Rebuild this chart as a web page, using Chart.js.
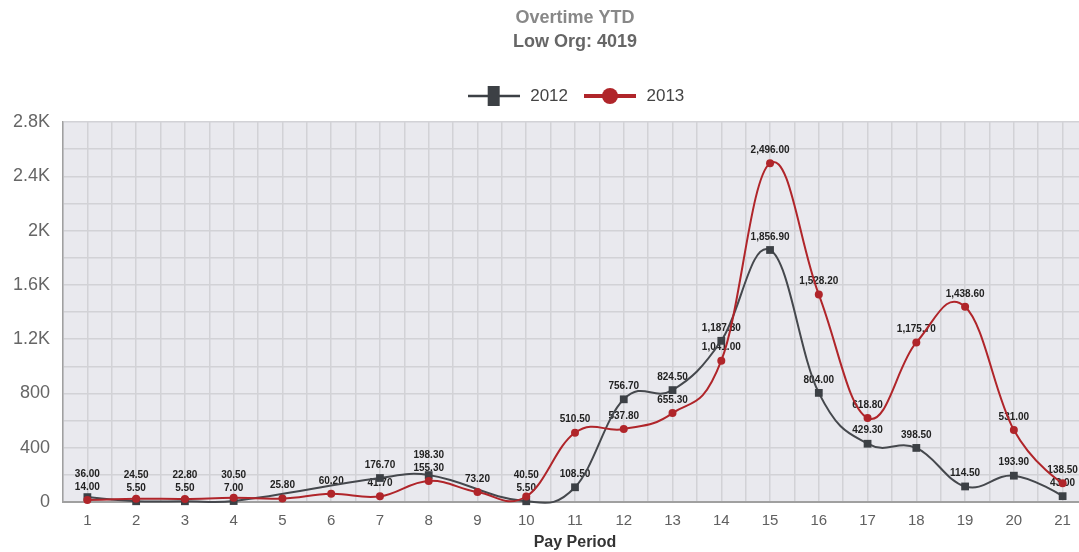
<!DOCTYPE html>
<html><head><meta charset="utf-8">
<script src="https://cdn.jsdelivr.net/npm/chart.js@4.4.0/dist/chart.umd.min.js"></script>
<style>
html,body{margin:0;padding:0;background:#fff;overflow:hidden;width:1079px;height:552px;}
#wrap{position:absolute;left:0;top:0;width:1100px;height:552px;}
canvas{display:block;}
</style></head><body>
<div id="wrap"><canvas id="c" width="1100" height="552"></canvas></div>
<script>
// ---- data ----
const periods = [1,2,3,4,5,6,7,8,9,10,11,12,13,14,15,16,17,18,19,20,21];
const ot2012 = [36.00, 5.50, 5.50, 7.00, null, null, 176.70, 198.30, null, 5.50, 108.50, 756.70, 824.50, 1187.80, 1856.90, 804.00, 429.30, 398.50, 114.50, 193.90, 43.00];
const ot2013 = [14.00, 24.50, 22.80, 30.50, 25.80, 60.20, 41.70, 155.30, 73.20, 40.50, 510.50, 537.80, 655.30, 1041.00, 2496.00, 1528.20, 618.80, 1175.70, 1438.60, 531.00, 138.50];
const seriesNames = ['2012', '2013'];
const yTickLabels = ['0', '400', '800', '1.2K', '1.6K', '2K', '2.4K', '2.8K'];
const titleText = 'Overtime YTD';
const subtitleText = 'Low Org: 4019';
const xTitle = 'Pay Period';

const FONT = 'Liberation Sans';
Chart.defaults.font.family = FONT;

const C2012 = '#45484d', M2012 = '#3c4045';
const C2013 = '#b0252a';

function fmt(v) {
  const s = v.toFixed(2);
  const parts = s.split('.');
  return parts[0].replace(/\B(?=(\d{3})+(?!\d))/g, ',') + '.' + parts[1];
}

function legendIcon(kind, color) {
  const c = document.createElement('canvas');
  c.width = 52; c.height = 24;
  const g = c.getContext('2d');
  g.strokeStyle = color; g.fillStyle = color;
  g.lineWidth = kind === 'rect' ? 2.5 : 4;
  g.beginPath(); g.moveTo(0, 12); g.lineTo(52, 12); g.stroke();
  if (kind === 'rect') { g.fillRect(20, 2, 12, 20); }
  else { g.beginPath(); g.arc(26, 12, 8, 0, Math.PI * 2); g.fill(); }
  return c;
}
const icons = [legendIcon('rect', M2012), legendIcon('circle', C2013)];

// Highcharts-style spline control points
const hcSpline = {
  id: 'hcSpline',
  afterDatasetsUpdate(chart) {
    chart.data.datasets.forEach((ds, di) => {
      const meta = chart.getDatasetMeta(di);
      const pts = meta.data.filter(p => !p.skip);
      const sm = 1.5, den = sm + 1;
      pts.forEach((p, i) => {
        const prev = pts[i - 1], next = pts[i + 1];
        p.cp1x = p.x; p.cp1y = p.y; p.cp2x = p.x; p.cp2y = p.y;
        if (prev && next) {
          let lx = (sm * p.x + prev.x) / den, ly = (sm * p.y + prev.y) / den;
          let rx = (sm * p.x + next.x) / den, ry = (sm * p.y + next.y) / den;
          let corr = 0;
          if (rx !== lx) corr = ((ry - ly) * (rx - p.x)) / (rx - lx) + p.y - ry;
          ly += corr; ry += corr;
          p.cp1x = lx; p.cp1y = ly; p.cp2x = rx; p.cp2y = ry;
        }
      });
      if (meta.dataset) meta.dataset._pointsUpdated = true;
    });
  }
};

const plotBg = {
  id: 'plotBg',
  beforeDraw(chart) {
    const { ctx, chartArea: a } = chart;
    ctx.save();
    ctx.fillStyle = '#e9e9ee';
    ctx.fillRect(a.left, a.top, a.right - a.left, a.bottom - a.top);
    ctx.restore();
  }
};

const dataLabels = {
  id: 'dataLabels',
  beforeDatasetsDraw(chart) {
    const ctx = chart.ctx;
    const n = periods.length;
    ctx.save();
    ctx.font = 'bold 10px "' + FONT + '"';
    ctx.fillStyle = '#222';
    ctx.textAlign = 'center';
    ctx.textBaseline = 'middle';
    for (let i = 0; i < n; i++) {
      const items = [];
      chart.data.datasets.forEach((ds, di) => {
        const v = ds.data[i].y;
        if (v === null || v === undefined) return;
        const pt = chart.getDatasetMeta(di).data[i];
        items.push({ x: pt.x, y: pt.y - 13, v });
      });
      items.sort((a, b) => b.v - a.v);
      for (let k = 1; k < items.length; k++) {
        const hi = items[k - 1], lo = items[k];
        if (lo.y - hi.y < 13) hi.y = lo.y - 13;
      }
      items.forEach(it => ctx.fillText(fmt(it.v), it.x, it.y));
    }
    ctx.restore();
  }
};

const gridColor = '#d2d2d6';

new Chart(document.getElementById('c'), {
  type: 'line',
  data: {
    datasets: [
      {
        label: seriesNames[0], xAxisID: 'x', yAxisID: 'y',
        data: periods.map((p, i) => ({ x: p, y: ot2012[i] })),
        borderColor: C2012, backgroundColor: M2012,
        pointBackgroundColor: M2012, pointBorderColor: M2012, pointBorderWidth: 0,
        pointStyle: 'rect', pointRadius: 5.5,
        borderWidth: 2, tension: 0.4, spanGaps: true, clip: 10, order: 2
      },
      {
        label: seriesNames[1], xAxisID: 'x', yAxisID: 'y',
        data: periods.map((p, i) => ({ x: p, y: ot2013[i] })),
        borderColor: C2013, backgroundColor: C2013,
        pointBackgroundColor: C2013, pointBorderColor: C2013, pointBorderWidth: 0,
        pointStyle: 'circle', pointRadius: 4,
        borderWidth: 2, tension: 0.4, spanGaps: true, clip: 10, order: 1
      }
    ]
  },
  options: {
    responsive: false,
    animation: false,
    devicePixelRatio: 1,
    layout: { padding: { left: 0, right: 13, top: 0, bottom: 0 } },
    events: [],
    plugins: {
      title: {
        display: true, text: titleText, fullSize: false, color: '#888',
        font: { family: FONT, size: 18, weight: 'bold' }, padding: { top: 7, bottom: 2 }
      },
      subtitle: {
        display: true, text: subtitleText, fullSize: false, color: '#666',
        font: { family: FONT, size: 18, weight: 'bold' }, padding: { top: 0.6, bottom: 20.7 }
      },
      legend: {
        display: true, fullSize: false,
        labels: {
          usePointStyle: true, pointStyleWidth: 56, padding: 14, color: '#444',
          font: { family: FONT, size: 17 },
          generateLabels: chart => chart.data.datasets.map((ds, i) => ({
            text: ds.label, pointStyle: icons[i], fillStyle: ds.borderColor,
            strokeStyle: ds.borderColor, lineWidth: 0, hidden: false, datasetIndex: i, fontColor: '#444'
          }))
        }
      },
      tooltip: { enabled: false }
    },
    scales: {
      x: {
        type: 'linear', min: 0.5, max: 21.5,
        afterFit: s => { s.height = 50; },
        grid: { color: gridColor, lineWidth: 1.5, drawTicks: false },
        border: { color: '#a0a0a0', width: 2 },
        ticks: {
          stepSize: 0.5, autoSkip: false, maxRotation: 0, minRotation: 0, padding: 10,
          color: '#606060', font: { family: FONT, size: 15 },
          callback: v => (Number.isInteger(v) && v >= 1 && v <= periods.length) ? String(periods[v - 1]) : ''
        },
        title: {
          display: true, text: xTitle, color: '#333',
          font: { family: FONT, size: 16, weight: 'bold' }, padding: { top: 0, bottom: 0 }
        }
      },
      y: {
        min: 0, max: 2800,
        afterFit: s => { s.width = 63; },
        grid: { color: gridColor, lineWidth: 1.5, drawTicks: false },
        border: { color: '#a0a0a0', width: 1.5 },
        ticks: {
          stepSize: 200, padding: 13, color: '#666', font: { family: FONT, size: 18 },
          callback: v => (v % 400 === 0) ? yTickLabels[v / 400] : ''
        }
      },
      xTop: {
        type: 'linear', position: 'top', display: true,
        grid: { display: false, drawTicks: false }, border: { display: false },
        ticks: { display: false },
        afterFit: s => { s.height = 7.5; }
      }
    }
  },
  plugins: [hcSpline, plotBg, dataLabels]
});
</script>
</body></html>
